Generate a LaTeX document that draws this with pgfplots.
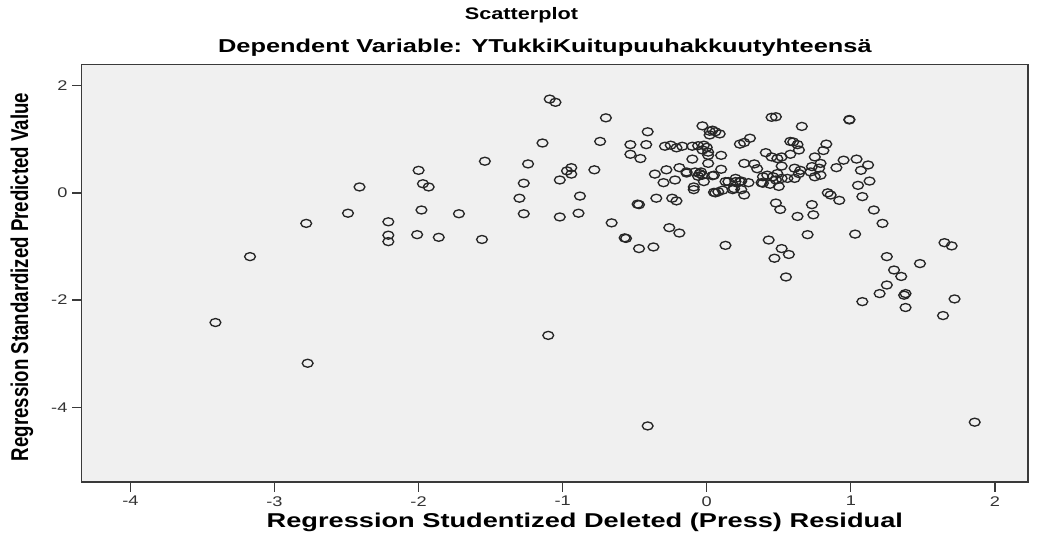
\documentclass[border=0pt]{standalone}
\usepackage{graphicx}
\usepackage{pgfplots}
\pgfplotsset{compat=1.18}
\usepackage{pgfplotstable}
\usepackage{fontspec}
\setmainfont{Liberation Sans}
\definecolor{bgc}{HTML}{F0F0F0}
\definecolor{framec}{HTML}{3A3A3A}
\pgfdeclareplotmark{oval}{%
  \pgfpathellipse{\pgfpointorigin}{\pgfqpoint{1.35\pgfplotmarksize}{0pt}}{\pgfqpoint{0pt}{\pgfplotmarksize}}%
  \pgfusepathqstroke}
\pgfplotstableread{
x y
-3.41 -2.42
-3.17 -1.19
-2.78 -0.57
-2.77 -3.18
-2.49 -0.38
-2.41 0.11
-2.21 -0.54
-2.21 -0.79
-2.21 -0.91
-2.01 -0.78
-2.00 0.42
-1.98 -0.32
-1.97 0.17
-1.93 0.11
-1.86 -0.83
-1.72 -0.39
-1.56 -0.87
-1.54 0.59
-1.30 -0.10
-1.27 0.18
-1.27 -0.39
-1.24 0.54
-1.14 0.93
-1.10 -2.66
-1.09 1.75
-1.05 1.69
-1.02 0.24
-1.02 -0.45
-0.97 0.41
-0.94 0.47
-0.94 0.35
-0.89 -0.38
-0.88 -0.06
-0.78 0.43
-0.74 0.96
-0.70 1.40
-0.66 -0.56
-0.57 -0.84
-0.56 -0.85
-0.53 0.90
-0.53 0.72
-0.48 -0.21
-0.47 -0.22
-0.47 -1.04
-0.46 0.64
-0.42 0.90
-0.41 1.14
-0.41 -4.35
-0.37 -1.01
-0.36 0.35
-0.35 -0.10
-0.30 0.19
-0.29 0.87
-0.28 0.43
-0.26 -0.65
-0.25 0.89
-0.24 -0.10
-0.22 0.24
-0.21 -0.15
-0.21 0.84
-0.19 0.47
-0.19 -0.75
-0.17 0.87
-0.14 0.37
-0.14 0.39
-0.10 0.87
-0.10 0.63
-0.09 0.06
-0.09 0.11
-0.08 0.39
-0.06 0.88
-0.06 0.31
-0.05 0.36
-0.04 0.39
-0.03 1.25
-0.03 0.80
-0.03 0.33
-0.02 0.89
-0.02 0.21
0.00 0.85
0.01 0.76
0.01 0.55
0.01 0.70
0.02 1.15
0.02 1.08
0.04 1.17
0.04 0.32
0.05 0.33
0.05 0.01
0.06 1.14
0.06 0.00
0.08 0.02
0.09 1.10
0.10 0.70
0.10 0.44
0.11 0.05
0.13 0.21
0.13 -0.98
0.15 0.21
0.18 0.06
0.19 0.08
0.20 0.27
0.20 0.21
0.23 0.91
0.23 0.21
0.24 0.06
0.24 0.22
0.26 0.94
0.26 0.55
0.26 -0.04
0.29 0.19
0.30 1.02
0.33 0.54
0.35 0.45
0.38 0.19
0.39 0.30
0.39 0.18
0.41 0.75
0.42 0.33
0.43 -0.88
0.44 0.16
0.45 1.41
0.45 0.67
0.46 0.30
0.47 -1.22
0.48 1.42
0.48 0.24
0.48 -0.19
0.49 0.64
0.49 0.36
0.50 0.12
0.51 -0.31
0.52 0.67
0.52 0.50
0.52 0.27
0.52 -1.04
0.55 -1.57
0.56 0.27
0.57 -1.15
0.58 0.96
0.58 0.72
0.60 0.95
0.61 0.27
0.61 0.46
0.63 0.90
0.63 -0.44
0.64 0.80
0.64 0.36
0.65 0.42
0.66 1.24
0.70 -0.78
0.72 0.39
0.73 0.49
0.73 -0.22
0.74 -0.41
0.75 0.67
0.75 0.30
0.78 0.46
0.79 0.55
0.79 0.33
0.81 0.79
0.83 0.91
0.84 0.00
0.86 -0.04
0.90 0.47
0.92 -0.14
0.95 0.61
0.99 1.37
0.99 1.36
1.03 -0.77
1.04 0.63
1.05 0.14
1.07 0.42
1.08 -0.07
1.08 -2.03
1.12 0.52
1.13 0.22
1.16 -0.32
1.20 -1.88
1.22 -0.57
1.25 -1.19
1.25 -1.72
1.30 -1.44
1.35 -1.56
1.37 -1.91
1.38 -1.88
1.38 -2.14
1.48 -1.32
1.64 -2.29
1.65 -0.93
1.70 -0.99
1.72 -1.98
1.86 -4.28
}\pts
\begin{document}
\begin{tikzpicture}
\begin{axis}[
  scale only axis, width=710pt, height=313.5pt,
  xmin=-4.34, xmax=2.23, ymin=-5.40, ymax=2.40,
  xtick={-4,-3,-2,-1,0,1,2}, ytick={-4,-2,0,2},
  axis background/.style={fill=bgc},
  axis line style={draw=framec, line width=1.1pt},
  every tick/.style={draw=framec, line width=1pt},
  tick align=outside, major tick length=7pt,
  xtick pos=bottom, ytick pos=left,
  tick label style={font=\fontsize{10.5}{12}\selectfont, text=black!80},
  xticklabel={\scalebox{1.3}[1]{\pgfmathprintnumber[assume math mode=true]{\tick}}},
  yticklabel={\scalebox{1.3}[1]{\pgfmathprintnumber[assume math mode=true]{\tick}}},
]
\addplot[only marks, mark=oval, mark size=3pt,
  mark options={line width=1pt, draw=black!85}] table {\pts};
\coordinate (sw) at (rel axis cs:0,0);
\end{axis}
\path ([xshift=-61.1pt,yshift=-39.5pt]sw) ([xshift=722pt,yshift=361.7pt]sw);
\node[font=\fontsize{12.5}{15}\selectfont\bfseries, xscale=1.3] at ([xshift=330pt,yshift=350.5pt]sw) {Scatterplot};
\node[font=\fontsize{14}{17}\selectfont\bfseries, xscale=1.36] at ([xshift=347.6pt,yshift=325.7pt]sw) {Dependent Variable: YTukkiKuitupuuhakkuutyhteensä};
\node[font=\fontsize{15}{18}\selectfont\bfseries, xscale=1.36] at ([xshift=377.6pt,yshift=-30pt]sw) {Regression Studentized Deleted (Press) Residual};
\node[font=\fontsize{14}{17}\selectfont\bfseries, rotate=90, yscale=1.3] at ([xshift=-44.6pt,yshift=154pt]sw) {Regression Standardized Predicted Value};
\end{tikzpicture}
\end{document}
